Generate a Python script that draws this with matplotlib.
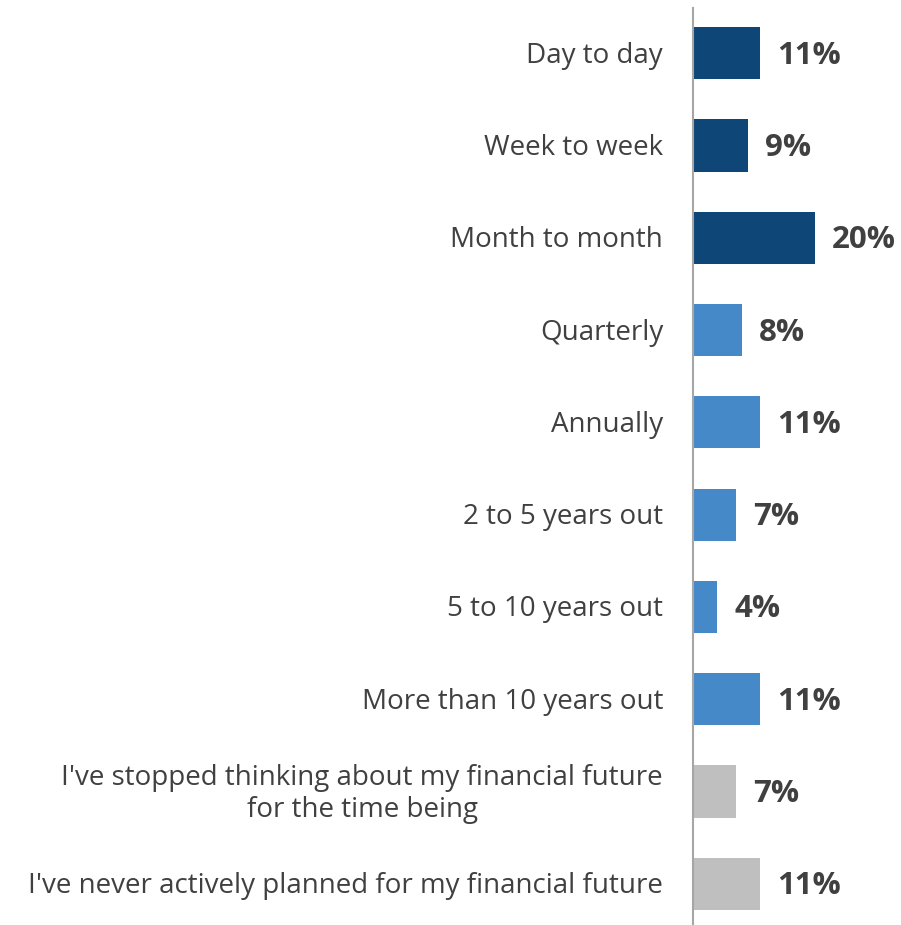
import matplotlib
matplotlib.use("Agg")
import matplotlib.pyplot as plt

categories = ["Day to day", "Week to week", "Month to month", "Quarterly", "Annually",
              "2 to 5 years out", "5 to 10 years out", "More than 10 years out",
              "I've stopped thinking about my financial future\nfor the time being",
              "I've never actively planned for my financial future"]
values = [11, 9, 20, 8, 11, 7, 4, 11, 7, 11]
groups = ["short", "short", "short", "mid", "mid", "mid", "mid", "mid", "none", "none"]
group_colors = {"short": "#0E4677", "mid": "#4689C8", "none": "#BFBFBF"}

plt.rcParams['font.family'] = ['Open Sans', 'DejaVu Sans']

fig = plt.figure(figsize=(9.01, 9.25), dpi=100)
ax = fig.add_axes([693/901, -5/925, 1 - 693/901, 923/925])

y = list(range(len(categories)))
ax.barh(y, values, height=0.565, color=[group_colors[g] for g in groups])
ax.set_ylim(len(categories) - 0.5, -0.5)
ax.set_xlim(0, 208/6.1)

dy = 2.5 / 92.3
for yi, v in zip(y, values):
    ax.text(v + 17/6.1, yi + dy, f"{v}%", va='center', ha='left', fontsize=22.5,
            fontweight='bold', color='#404040')

for yi, c in zip(y, categories):
    ax.text(-30/6.1, yi + dy, c, va='center', ha='right', multialignment='center',
            fontsize=20, color='#404040', clip_on=False, linespacing=1.2)

ax.set_yticks([])
ax.set_xticks([])
for s in ['top', 'right', 'bottom']:
    ax.spines[s].set_visible(False)
ax.spines['left'].set_color('#A6A6A6')
ax.spines['left'].set_linewidth(1.5)
ax.spines['left'].set_bounds(len(categories) - 0.5, -0.5 + 1/92.3)

fig.savefig("out.png", dpi=100)
